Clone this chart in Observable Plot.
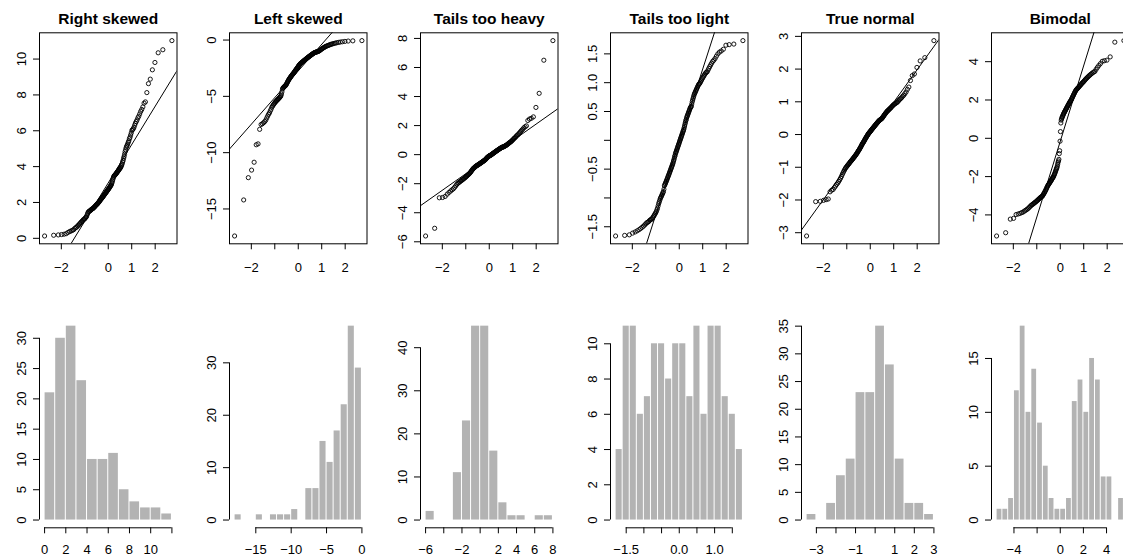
<!DOCTYPE html>
<html><head><meta charset="utf-8">
<script src="https://cdn.jsdelivr.net/npm/d3@7"></script>
<script src="https://cdn.jsdelivr.net/npm/@observablehq/plot@0.6"></script>
<style>
html,body{margin:0;padding:0;background:#fff;}
#fig{position:relative;width:1123px;height:556px;overflow:hidden;background:#fff;}
#fig > div{position:absolute;width:190px;height:278px;}
#fig svg{display:block;max-width:none !important;width:190px !important;height:278px !important;}
</style></head><body><div id="fig"></div>
<script>
// ---------- data: samples (n = 150 each) ----------
const titles = ["Right skewed", "Left skewed", "Tails too heavy", "Tails too light", "True normal", "Bimodal"];

const rightSkewed = [0.13,0.17,0.19,0.21,0.23,0.26,0.33,0.38,0.41,0.45,0.48,0.55,0.6,0.63,0.7,0.74,0.8,0.84,0.9,0.94,0.98,
1.03,1.06,1.08,1.13,1.17,1.21,1.3,1.39,1.46,1.49,1.51,1.54,1.55,1.58,1.61,1.63,1.65,1.66,1.69,1.72,1.74,1.77,1.8,1.83,1.86,1.88,1.9,1.93,1.96,1.99,
2.02,2.04,2.08,2.11,2.15,2.17,2.2,2.24,2.27,2.29,2.31,2.35,2.38,2.42,2.44,2.47,2.5,2.54,2.56,2.59,2.62,2.66,2.69,2.72,2.74,2.78,2.81,2.85,2.88,2.91,2.95,2.98,
3.04,3.11,3.19,3.27,3.36,3.42,3.47,3.5,3.52,3.55,3.58,3.6,3.63,3.66,3.7,3.73,3.76,3.8,3.83,3.86,3.9,3.93,3.97,
4.03,4.09,4.16,4.26,4.34,4.46,4.56,4.69,4.83,4.94,
5.05,5.13,5.19,5.27,5.36,5.44,5.56,5.64,5.76,5.88,
6.02,6.06,6.11,6.19,6.31,6.42,6.51,6.6,6.72,6.81,6.94,
7.08,7.19,7.33,7.54,7.61,8.13,8.63,8.88,9.4,9.81,10.35,10.52,11.03];

const leftSkewed = [-17.4,-14.2,-12.22,-11.55,-10.85,-9.3,-9.22,
-7.93,-7.5,-7.43,-7.34,-7.24,-7.11,
-6.92,-6.74,-6.58,-6.47,-6.29,-6.14,
-5.96,-5.87,-5.76,-5.68,-5.6,-5.52,-5.46,-5.4,-5.34,-5.29,-5.24,-5.19,-5.13,-5.08,-5.02,
-4.95,-4.8,-4.6,-4.36,-4.28,-4.22,-4.18,-4.14,-4.09,-4.06,-4.02,
-3.96,-3.88,-3.81,-3.73,-3.66,-3.59,-3.52,-3.46,-3.41,-3.35,-3.3,-3.25,-3.2,-3.15,-3.1,-3.05,-3.02,
-2.97,-2.92,-2.87,-2.83,-2.77,-2.72,-2.67,-2.62,-2.57,-2.53,-2.48,-2.43,-2.37,-2.32,-2.27,-2.22,-2.18,-2.14,-2.1,-2.07,-2.04,-2.01,
-1.98,-1.95,-1.92,-1.89,-1.86,-1.83,-1.8,-1.77,-1.74,-1.71,-1.68,-1.65,-1.62,-1.59,-1.56,-1.53,-1.5,-1.47,-1.44,-1.41,
-1.38,-1.35,-1.32,-1.29,-1.26,-1.23,-1.2,-1.17,-1.14,-1.12,-1.1,-1.08,-1.07,-1.05,-1.04,-1.02,-1.01,
-0.98,-0.95,-0.9,-0.87,-0.82,-0.78,-0.74,-0.7,-0.67,-0.62,-0.58,-0.55,-0.52,-0.49,-0.46,-0.42,-0.39,-0.36,-0.33,-0.3,
-0.27,-0.24,-0.21,-0.18,-0.15,-0.12,-0.09,-0.07,-0.05];

const tailsHeavy = [-5.6,-5.07,
-2.97,-2.95,-2.88,-2.72,-2.6,-2.5,-2.42,-2.35,-2.25,-2.15,-2.05,
-1.98,-1.93,-1.88,-1.83,-1.79,-1.75,-1.71,-1.67,-1.63,-1.59,-1.55,-1.51,-1.47,-1.43,-1.39,-1.35,-1.31,-1.27,-1.23,-1.18,-1.13,-1.08,-1.03,
-0.98,-0.95,-0.92,-0.89,-0.86,-0.83,-0.8,-0.78,-0.76,-0.74,-0.72,-0.7,-0.68,-0.66,-0.64,-0.62,-0.6,-0.58,-0.56,-0.54,
-0.52,-0.5,-0.48,-0.46,-0.44,-0.42,-0.4,-0.38,-0.36,-0.33,-0.3,-0.27,-0.24,-0.21,-0.18,-0.16,-0.14,-0.12,-0.1,-0.08,
-0.06,-0.05,-0.04,-0.02,-0.01,
0.02,0.04,0.06,0.08,0.1,0.12,0.14,0.16,0.18,0.2,0.22,0.24,0.26,0.28,0.3,0.32,0.34,0.36,0.38,0.4,
0.42,0.44,0.46,0.48,0.5,0.51,0.52,0.53,0.54,0.56,0.58,0.6,0.62,0.64,0.66,0.69,0.72,0.75,0.78,0.81,
0.84,0.87,0.9,0.94,0.98,
1.03,1.08,1.12,1.17,1.22,1.28,1.33,1.38,1.45,1.52,1.6,1.68,1.75,1.85,1.92,1.98,
2.35,2.45,2.5,2.6,3.25,4.22,6.5,7.85];

const tailsLight = [-1.66,-1.65,-1.64,-1.61,
-1.59,-1.57,-1.55,-1.53,-1.51,-1.49,-1.47,-1.45,-1.43,-1.42,-1.41,
-1.39,-1.38,-1.37,-1.36,-1.34,-1.32,-1.3,-1.28,-1.26,-1.24,-1.21,
-1.18,-1.14,-1.1,-1.07,-1.04,-1.01,
-0.99,-0.97,-0.95,-0.93,-0.91,-0.89,-0.85,
-0.79,-0.77,-0.75,-0.73,-0.71,-0.69,-0.67,-0.65,-0.63,-0.61,
-0.59,-0.57,-0.55,-0.53,-0.51,-0.49,-0.47,-0.45,-0.43,-0.41,
-0.39,-0.36,-0.34,-0.31,-0.28,-0.26,-0.23,-0.21,
-0.19,-0.17,-0.15,-0.13,-0.11,-0.09,-0.07,-0.05,-0.03,-0.01,
0.01,0.03,0.05,0.07,0.09,0.11,0.13,0.15,0.17,0.19,
0.22,0.25,0.28,0.31,0.34,0.36,0.39,
0.41,0.43,0.45,0.47,0.49,0.51,0.53,0.55,0.57,0.58,0.59,
0.63,0.67,0.7,0.73,0.76,0.79,
0.81,0.83,0.85,0.87,0.89,0.91,0.93,0.95,0.97,0.98,0.99,
1.01,1.03,1.05,1.07,1.09,1.11,1.13,1.15,1.17,1.18,1.19,
1.22,1.25,1.28,1.31,1.34,1.37,1.39,
1.42,1.46,1.5,1.53,1.55,1.58,
1.65,1.66,1.67,1.73];

const trueNormal = [-3.1,-2.05,-2.04,-2.01,
-1.99,-1.97,-1.75,-1.7,-1.68,-1.62,-1.57,-1.52,
-1.48,-1.43,-1.38,-1.33,-1.28,-1.22,-1.17,-1.12,-1.08,-1.04,-1.01,
-0.98,-0.96,-0.93,-0.91,-0.89,-0.86,-0.84,-0.82,-0.8,-0.78,-0.76,-0.74,-0.72,-0.7,-0.68,-0.66,-0.64,-0.62,-0.6,-0.58,-0.56,-0.53,-0.51,
-0.49,-0.47,-0.45,-0.42,-0.4,-0.38,-0.35,-0.33,-0.3,-0.28,-0.26,-0.24,-0.22,-0.2,-0.18,-0.15,-0.13,-0.11,-0.09,-0.07,-0.05,-0.03,-0.01,
0.01,0.03,0.04,0.06,0.07,0.09,0.1,0.12,0.13,0.15,0.16,0.18,0.19,0.21,0.22,0.24,0.25,0.27,0.28,0.3,
0.31,0.33,0.34,0.36,0.37,0.39,0.4,0.42,0.43,0.44,0.45,0.46,0.47,0.48,0.49,
0.51,0.53,0.55,0.57,0.59,0.61,0.63,0.65,0.67,0.69,0.71,0.72,0.74,0.75,0.77,0.79,0.8,0.82,0.84,0.86,
0.88,0.9,0.92,0.93,0.95,0.96,0.98,0.99,
1.02,1.05,1.08,1.1,1.13,1.17,1.2,1.25,1.3,1.38,1.45,
1.65,1.8,1.85,2.05,2.25,2.35,2.87];

const bimodal = [-5.1,-4.93,-4.22,-4.18,
-3.98,-3.95,-3.92,-3.88,-3.85,-3.8,-3.76,-3.72,-3.68,-3.63,-3.58,-3.53,
-3.49,-3.46,-3.43,-3.4,-3.37,-3.34,-3.31,-3.28,-3.25,-3.22,-3.19,-3.16,-3.13,-3.1,-3.08,-3.06,-3.04,-3.02,
-2.97,-2.93,-2.88,-2.84,-2.79,-2.74,-2.69,-2.64,-2.58,-2.53,
-2.48,-2.44,-2.41,-2.37,-2.34,-2.3,-2.27,-2.23,-2.2,-2.16,-2.12,-2.08,-2.05,-2.02,
-1.97,-1.92,-1.87,-1.82,-1.76,-1.7,-1.64,-1.58,-1.53,
-1.45,-1.35,-1.25,-1.18,-1.1,-0.8,-0.65,-0.15,0.35,0.8,0.95,
1.02,1.08,1.13,1.18,1.23,1.28,1.32,1.36,1.4,1.44,1.48,
1.52,1.56,1.6,1.64,1.68,1.72,1.76,1.8,1.84,1.88,1.92,1.95,1.98,
2.03,2.08,2.13,2.18,2.23,2.28,2.33,2.38,2.43,2.48,
2.52,2.55,2.58,2.61,2.64,2.67,2.7,2.74,2.77,2.8,2.84,2.87,2.91,2.94,2.97,
3.02,3.06,3.1,3.14,3.18,3.22,3.26,3.3,3.34,3.38,3.42,3.46,3.49,
3.6,3.7,3.8,3.9,4.02,4.05,4.08,4.25,5.02,5.1];

// ---------- histogram breaks ----------
const rightBreaks  = [0,1,2,3,4,5,6,7,8,9,10,11,12];
const leftBreaks   = [-18,-17,-16,-15,-14,-13,-12,-11,-10,-9,-8,-7,-6,-5,-4,-3,-2,-1,0];
const heavyBreaks  = [-6,-5,-4,-3,-2,-1,0,1,2,3,4,5,6,7,8];
const lightBreaks  = [-1.8,-1.6,-1.4,-1.2,-1.0,-0.8,-0.6,-0.4,-0.2,0,0.2,0.4,0.6,0.8,1.0,1.2,1.4,1.6,1.8];
const normalBreaks = [-3.5,-3,-2.5,-2,-1.5,-1,-0.5,0,0.5,1,1.5,2,2.5,3];
const bimodalBreaks = [-5.5,-5,-4.5,-4,-3.5,-3,-2.5,-2,-1.5,-1,-0.5,0,0.5,1,1.5,2,2.5,3,3.5,4,4.5,5,5.5];

// ---------- tick values / shown labels ----------
const qqXTicks = [-2,-1,0,1,2];
const qqXLabels = [-2,0,1,2];
const qqYTicks = [[0,2,4,6,8,10],[0,-5,-10,-15],[-6,-4,-2,0,2,4,6,8],[-1.5,-1,-0.5,0,0.5,1,1.5],[-3,-2,-1,0,1,2,3],[-4,-2,0,2,4]];
const qqYLabels = [[0,2,4,6,8,10],[0,-5,-10,-15],[-6,-4,-2,0,2,4,6,8],[-1.5,-0.5,0.5,1,1.5],[-3,-2,-1,0,1,2,3],[-4,-2,0,2,4]];
const histXTicks = [[0,2,4,6,8,10,12],[-15,-10,-5,0],[-6,-4,-2,0,2,4,6,8],[-1.5,-1,-0.5,0,0.5,1,1.5],[-3,-2,-1,0,1,2,3],[-4,-2,0,2,4]];
const histXLabels = [[0,2,4,6,8,10],[-15,-10,-5,0],[-6,-2,2,4,6,8],[-1.5,0,1],[-3,-1,1,2,3],[-4,0,2,4]];
const histYTicks = [[0,5,10,15,20,25,30],[0,10,20,30],[0,10,20,30,40],[0,2,4,6,8,10],[0,5,10,15,20,25,30,35],[0,5,10,15]];
const decimals = [null,null,null,1,null,null];

// ---------- helpers ----------
function qnorm(p) {
  const a = [-3.969683028665376e+01, 2.209460984245205e+02, -2.759285104469687e+02, 1.383577518672690e+02, -3.066479806614716e+01, 2.506628277459239e+00];
  const b = [-5.447609879822406e+01, 1.615858368580409e+02, -1.556989798598866e+02, 6.680131188771972e+01, -1.328068155288572e+01];
  const c = [-7.784894002430293e-03, -3.223964580411365e-01, -2.400758277161838e+00, -2.549732539343734e+00, 4.374664141464968e+00, 2.938163982698783e+00];
  const d = [7.784695709041462e-03, 3.224671290700398e-01, 2.445134137142996e+00, 3.754408661907416e+00];
  const pl = 0.02425;
  if (p < pl) { const q = Math.sqrt(-2 * Math.log(p)); return (((((c[0]*q+c[1])*q+c[2])*q+c[3])*q+c[4])*q+c[5]) / ((((d[0]*q+d[1])*q+d[2])*q+d[3])*q+1); }
  if (p <= 1 - pl) { const q = p - 0.5, r = q * q; return (((((a[0]*r+a[1])*r+a[2])*r+a[3])*r+a[4])*r+a[5])*q / (((((b[0]*r+b[1])*r+b[2])*r+b[3])*r+b[4])*r+1); }
  const q = Math.sqrt(-2 * Math.log(1 - p)); return -(((((c[0]*q+c[1])*q+c[2])*q+c[3])*q+c[4])*q+c[5]) / ((((d[0]*q+d[1])*q+d[2])*q+d[3])*q+1);
}
const fmtNum = (d, dec) => (d < 0 ? "\u2212" : "") + (dec == null ? String(Math.abs(d)) : Math.abs(d).toFixed(dec));
const labeler = (shown, dec) => d => shown.some(s => Math.abs(s - d) < 1e-9) ? fmtNum(d, dec) : "";
const pad4 = ([a, b]) => { const p = (b - a) * 0.04; return [a - p, b + p]; };

const FONT = "'Liberation Sans', Arial, Helvetica, sans-serif";
const CELL_W = 190.4, CELL_H = 278, W = 190, ML = 39, MR = 13.5;
const TICK = 6, XPAD = 12.8, HXPAD = 11.2, YPAD = 8, FS = 13;
const baseStyle = {fontFamily: FONT, fontSize: FS + "px", color: "black", background: "transparent", overflow: "visible", maxWidth: "none"};
const fig = document.getElementById("fig");
function place(svg, col, row) {
  const div = document.createElement("div");
  div.style.left = (col * CELL_W) + "px";
  div.style.top = (row * CELL_H) + "px";
  div.appendChild(svg);
  fig.appendChild(div);
}

function qqPlot(values, i) {
  const ys = values.slice().sort(d3.ascending);
  const n = ys.length;
  const pts = ys.map((y, k) => ({q: qnorm((k + 0.5) / n), y}));
  const xd = pad4(d3.extent(pts, d => d.q));
  const yd = pad4(d3.extent(ys));
  const q1 = d3.quantile(ys, 0.25), q3 = d3.quantile(ys, 0.75);
  const z1 = qnorm(0.25), z3 = qnorm(0.75);
  const slope = (q3 - q1) / (z3 - z1), icpt = q1 - slope * z1;
  const ref = xd.map(q => ({q, y: icpt + slope * q}));
  return Plot.plot({
    width: W, height: CELL_H, marginLeft: ML, marginRight: MR, marginTop: 32.3, marginBottom: 34.7,
    style: baseStyle,
    x: {domain: xd, label: null}, y: {domain: yd, label: null},
    marks: [
      Plot.line(ref, {x: "q", y: "y", stroke: "black", strokeWidth: 1, clip: true}),
      Plot.dot(pts, {x: "q", y: "y", r: 2.1, stroke: "black", strokeWidth: 0.9, fill: "none"}),
      Plot.frame({stroke: "black", strokeWidth: 1}),
      Plot.axisX({ticks: qqXTicks, tickFormat: labeler(qqXLabels), tickSize: TICK, tickPadding: XPAD, label: null}),
      Plot.axisY({ticks: qqYTicks[i], tickFormat: labeler(qqYLabels[i], decimals[i]), tickSize: TICK, tickRotate: -90, tickPadding: YPAD, label: null}),
      Plot.text([titles[i]], {text: d => d, frameAnchor: "top", dy: -14, fontWeight: "bold", fontSize: 15.5, lineAnchor: "middle", fill: "black"})
    ]
  });
}

function histPlot(values, breaks, i) {
  const lo = breaks[0], hi = breaks[breaks.length - 1];
  const counts = d3.bin().domain([lo, hi]).thresholds(breaks)(values).map(b => b.length);
  const maxCount = d3.max(counts);
  const xd = pad4([lo, hi]);
  const yd = pad4([0, maxCount]);
  const xt = histXTicks[i], yt = histYTicks[i];
  return Plot.plot({
    width: W, height: CELL_H, marginLeft: ML, marginRight: MR, marginTop: 39.9, marginBottom: 28.7,
    style: baseStyle,
    x: {domain: xd, label: null}, y: {domain: yd, label: null},
    marks: [
      Plot.rectY(values, Plot.binX({y: "count"}, {x: d => d, thresholds: breaks, fill: "#b3b3b3", insetLeft: 0.5, insetRight: 0.5})),
      Plot.ruleY([yd[0]], {x1: xt[0], x2: xt[xt.length - 1], stroke: "black", strokeWidth: 1}),
      Plot.ruleX([xd[0]], {y1: yt[0], y2: yt[yt.length - 1], stroke: "black", strokeWidth: 1}),
      Plot.axisX({ticks: xt, tickFormat: labeler(histXLabels[i], decimals[i]), tickSize: TICK, tickPadding: HXPAD, label: null}),
      Plot.axisY({ticks: yt, tickFormat: labeler(yt), tickSize: TICK, tickRotate: -90, tickPadding: YPAD, label: null})
    ]
  });
}

const samples = [rightSkewed, leftSkewed, tailsHeavy, tailsLight, trueNormal, bimodal];
const breaksList = [rightBreaks, leftBreaks, heavyBreaks, lightBreaks, normalBreaks, bimodalBreaks];
samples.forEach((s, i) => {
  place(qqPlot(s, i), i, 0);
  place(histPlot(s, breaksList[i], i), i, 1);
});
</script></body></html>
